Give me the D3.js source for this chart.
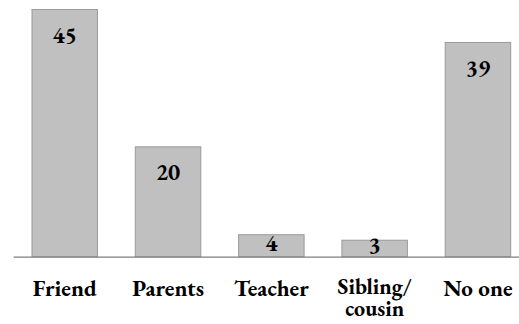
<!DOCTYPE html>
<html>
<head>
<meta charset="utf-8">
<script src="https://cdn.jsdelivr.net/npm/d3@7"></script>
<style>
  html, body { margin: 0; padding: 0; background: #fff; }
  svg { display: block; }
</style>
</head>
<body>
<svg id="chart" width="519" height="324"></svg>
<script>
// Who people turn to
const categories = ["Friend", "Parents", "Teacher", "Sibling/\ncousin", "No one"];
const values = [45, 20, 4, 3, 39];

const FONT = "'EB Garamond', Garamond, 'URW Garamond', 'P052', 'Nimbus Roman', 'Noto Serif', Tinos, FreeSerif, 'Liberation Serif', 'DejaVu Serif', serif";

const svg = d3.select("#chart");
const baseY = 256.7;

const x = d3.scaleBand()
  .domain(categories)
  .range([13.1, 529.6])
  .paddingInner(0.366)
  .paddingOuter(0.183);

const y = d3.scaleLinear()
  .domain([0, 45])
  .range([baseY, 9.5]);

const data = categories.map((c, i) => ({ c, v: values[i] }));

// bars
svg.append("g").selectAll("rect")
  .data(data)
  .join("rect")
  .attr("x", d => x(d.c))
  .attr("y", d => y(d.v))
  .attr("width", x.bandwidth())
  .attr("height", d => y(0) - y(d.v))
  .attr("fill", "#c0c0c0")
  .attr("stroke", "#9a9a9a")
  .attr("stroke-width", 1);

// value labels inside the bar top, centred for short bars
svg.append("g")
  .attr("font-family", FONT)
  .attr("font-weight", "bold")
  .attr("font-size", 23)
  .selectAll("text")
  .data(data)
  .join("text")
  .attr("x", d => x(d.c) + x.bandwidth() / 2)
  .attr("y", d => Math.min(y(d.v) + 33.5, (y(d.v) + y(0)) / 2 + 5))
  .attr("text-anchor", "middle")
  .attr("fill", "#000")
  .text(d => d.v);

// baseline axis
const axis = d3.axisBottom(x).tickSize(0).tickFormat("");
const ax = svg.append("g").attr("transform", `translate(0,${baseY})`).call(axis);
ax.select(".domain").attr("stroke", "#7f7f7f").attr("stroke-width", 1.3);

// category labels, one text per line; wrapped labels sit a little tighter
const lines = [];
categories.forEach(c => {
  const parts = c.split("\n");
  parts.forEach((line, i) => lines.push({ c, line, i, n: parts.length }));
});

svg.append("g")
  .attr("font-family", FONT)
  .attr("font-weight", "bold")
  .selectAll("text")
  .data(lines)
  .join("text")
  .attr("text-anchor", "middle")
  .attr("fill", "#000")
  .attr("font-size", d => d.n > 1 ? 22 : 23)
  .attr("x", d => x(d.c) + x.bandwidth() / 2)
  .attr("y", d => d.n > 1 ? 294 + d.i * 22 : 296)
  .text(d => d.line);
</script>
</body>
</html>
